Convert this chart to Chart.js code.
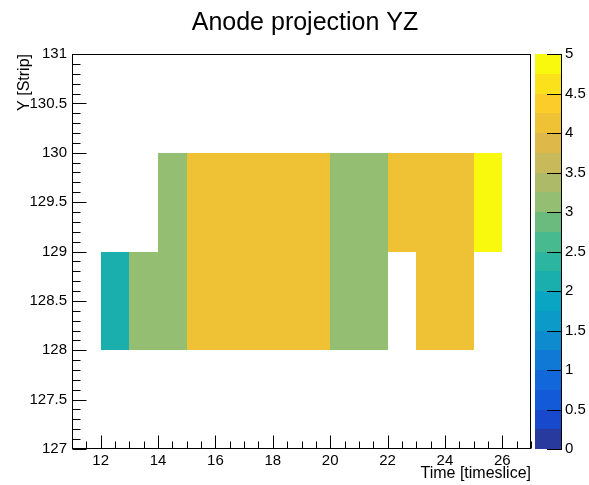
<!DOCTYPE html>
<html><head><meta charset="utf-8">
<script src="https://cdn.jsdelivr.net/npm/chart.js@4/dist/chart.umd.min.js"></script>
<style>html,body{margin:0;padding:0;background:#fff}</style>
</head><body>
<canvas id="c" width="589" height="485"></canvas>
<script>
// ---- data ----
const chartTitle = 'Anode projection YZ';
const xTitle = 'Time [timeslice]';
const yTitle = 'Y [Strip]';
const timeBins = [12, 13, 14, 15, 16, 17, 18, 19, 20, 21, 22, 23, 24, 25]; // lower bin edges
const stripBins = [128, 129];                                              // lower bin edges
const strip128 = [2, 3, 3, 4, 4, 4, 4, 4, 3, 3, 0, 4, 4, 0];
const strip129 = [0, 0, 3, 4, 4, 4, 4, 4, 3, 3, 4, 4, 4, 5];
const xTicks = [12, 14, 16, 18, 20, 22, 24, 26];
const yTicks = [127, 127.5, 128, 128.5, 129, 129.5, 130, 130.5, 131];
const zTicks = [0, 0.5, 1, 1.5, 2, 2.5, 3, 3.5, 4, 4.5, 5];
const xRange = [11, 27];
const yRange = [127, 131];
const zRange = [0, 5];
const nContours = 20;

// ---- style ----
const palette = ['#283a9e','#1849cc','#135ad8','#1267da','#1079d6','#0e8acf','#0c9bc9','#0aa5c3','#1aafad','#2cb5a0',
                 '#47ba8f','#6cbb7e','#94be72','#adbb68','#c8b95a','#deb94a','#efc235','#fbcc2a','#fbe11c','#f9f90e'];
const FONT = '"Liberation Sans", Arial, Helvetica, sans-serif';

function colorFor(v) {
  const step = (zRange[1] - zRange[0]) / nContours;
  let k = Math.floor((v - zRange[0]) / step);
  k = Math.max(0, Math.min(nContours - 1, k));
  return palette[k];
}

const rows = [strip128, strip129];
const cells = [];
rows.forEach((row, r) => row.forEach((v, i) => {
  if (v > 0) cells.push({x: timeBins[i] + 0.5, y: stripBins[r] + 0.5, v: v, x0: timeBins[i], y0: stripBins[r]});
}));

const heatPlugin = {
  id: 'heat',
  beforeDatasetsDraw(chart) {
    const {ctx, scales: {x, y}} = chart;
    ctx.save();
    chart.data.datasets[0].data.forEach(c => {
      const px0 = Math.round(x.getPixelForValue(c.x0)), px1 = Math.round(x.getPixelForValue(c.x0 + 1));
      const py0 = Math.round(y.getPixelForValue(c.y0 + 1)), py1 = Math.round(y.getPixelForValue(c.y0));
      ctx.fillStyle = colorFor(c.v);
      ctx.fillRect(px0, py0, px1 - px0, py1 - py0);
    });
    ctx.restore();
  },
  afterDraw(chart) {
    const {ctx, chartArea: a, scales: {x, y, y2}} = chart;
    ctx.save();
    ctx.strokeStyle = '#000';
    ctx.lineWidth = 1;
    // frame
    const L = Math.round(a.left) + 0.5, R = Math.round(a.right) - 0.5;
    const T = Math.round(a.top) + 0.5, B = Math.round(a.bottom) - 0.5;
    ctx.strokeRect(L, T, R - L, B - T);
    ctx.beginPath();
    for (let v = xRange[0]; v <= xRange[1] + 1e-9; v += 0.5) {
      const px = Math.round(x.getPixelForValue(v)) + 0.5;
      const major = xTicks.includes(v);
      const len = major ? 13 : 7;
      ctx.moveTo(px, B); ctx.lineTo(px, B - len);
    }
    for (let i = 0; i <= 40; i++) {
      const v = yRange[0] + i * 0.1;
      const py = Math.round(y.getPixelForValue(v)) + 0.5;
      const major = i % 5 === 0;
      const len = major ? 14 : 8;
      ctx.moveTo(L, py); ctx.lineTo(L + len, py);
    }
    ctx.stroke();
    // colour bar
    const cbL = 535, cbR = 562;
    const step = (zRange[1] - zRange[0]) / nContours;
    for (let k = 0; k < nContours; k++) {
      const top = Math.round(y2.getPixelForValue(zRange[0] + (k + 1) * step));
      const bot = Math.round(y2.getPixelForValue(zRange[0] + k * step));
      ctx.fillStyle = palette[k];
      ctx.fillRect(cbL, top, cbR - cbL, bot - top);
    }
    ctx.beginPath();
    ctx.moveTo(cbR - 0.5, Math.round(y2.getPixelForValue(zRange[1])));
    ctx.lineTo(cbR - 0.5, Math.round(y2.getPixelForValue(zRange[0])));
    zTicks.forEach(v => {
      const py = Math.round(y2.getPixelForValue(v)) + 0.5;
      ctx.moveTo(cbR - 15, py); ctx.lineTo(cbR, py);
    });
    ctx.stroke();
    // title
    ctx.fillStyle = '#000';
    ctx.font = '25px ' + FONT;
    ctx.textAlign = 'center';
    ctx.textBaseline = 'alphabetic';
    ctx.fillText(chartTitle, 305, 30);
    ctx.restore();
  }
};

const tickFont = {family: FONT, size: 15};
const noPad = s => { s.paddingTop = 0; s.paddingBottom = 0; s.paddingLeft = 0; s.paddingRight = 0; };

new Chart(document.getElementById('c'), {
  type: 'scatter',
  data: {datasets: [{data: cells, pointRadius: 0, pointHoverRadius: 0}]},
  options: {
    responsive: false,
    animation: false,
    events: [],
    layout: {padding: {top: 54, left: 0, right: 0, bottom: 0}},
    plugins: {legend: {display: false}, tooltip: {enabled: false}, title: {display: false}},
    scales: {
      x: {
        type: 'linear', position: 'bottom', min: xRange[0], max: xRange[1],
        grid: {display: false, drawTicks: false, tickLength: 0}, border: {display: false},
        afterBuildTicks: s => { s.ticks = xTicks.map(v => ({value: v})); },
        afterFit: s => { s.height = 36; noPad(s); },
        ticks: {autoSkip: false, maxRotation: 0, padding: 3, color: '#000', font: tickFont, callback: v => String(v)},
        title: {display: true, text: xTitle, align: 'end', color: '#000', font: {family: FONT, size: 16}, padding: {top: 0, bottom: 2}}
      },
      y: {
        type: 'linear', position: 'left', min: yRange[0], max: yRange[1],
        grid: {display: false, drawTicks: false, tickLength: 0}, border: {display: false},
        afterBuildTicks: s => { s.ticks = yTicks.map(v => ({value: v})); },
        afterFit: s => { s.width = 72; noPad(s); },
        ticks: {autoSkip: false, padding: 5, color: '#000', font: tickFont, callback: v => String(v)},
        title: {display: true, text: yTitle, align: 'end', color: '#000', font: {family: FONT, size: 16}, padding: {top: 15, bottom: 0}}
      },
      y2: {
        type: 'linear', position: 'right', min: zRange[0], max: zRange[1],
        grid: {display: false, drawTicks: false, tickLength: 0}, border: {display: false},
        afterBuildTicks: s => { s.ticks = zTicks.map(v => ({value: v})); },
        afterFit: s => { s.width = 58; noPad(s); },
        ticks: {autoSkip: false, padding: 34, color: '#000', font: tickFont, callback: v => String(v)}
      }
    }
  },
  plugins: [heatPlugin]
});
</script>
</body></html>
